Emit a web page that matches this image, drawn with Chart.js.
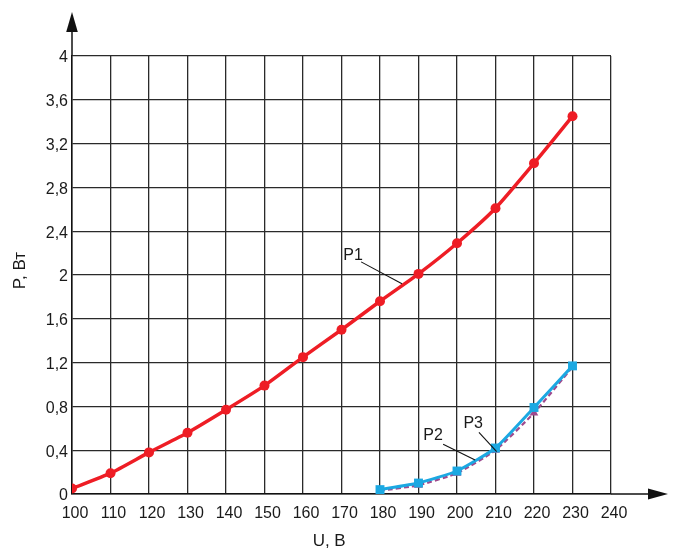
<!DOCTYPE html>
<html>
<head>
<meta charset="utf-8">
<script src="https://cdn.jsdelivr.net/npm/chart.js@4/dist/chart.umd.min.js"></script>
<style>
html,body{margin:0;padding:0;background:#fff;}
canvas{display:block;}
</style>
</head>
<body>
<canvas id="c" width="674" height="552"></canvas>
<script>
const voltageP1 = [100,110,120,130,140,150,160,170,180,190,200,210,220,230];
const powerP1 = [0.05,0.19,0.38,0.56,0.77,0.99,1.25,1.50,1.76,2.01,2.29,2.61,3.02,3.45];
const voltageP23 = [180,190,200,210,220,230];
const powerP2 = [0.03,0.08,0.19,0.40,0.74,1.16];
const powerP3 = [0.04,0.10,0.21,0.42,0.79,1.17];
const xTicks = [100,110,120,130,140,150,160,170,180,190,200,210,220,230,240];
const yTicks = [0,0.4,0.8,1.2,1.6,2,2.4,2.8,3.2,3.6,4];
const labels = [
  {text:'P1', tx:173.0, ty:2.18, x1:175.1, y1:2.12, x2:185.7, y2:1.92},
  {text:'P2', tx:193.8, ty:0.53, x1:196.4, y1:0.454, x2:204.7, y2:0.31},
  {text:'P3', tx:204.2, ty:0.64, x1:205.7, y1:0.563, x2:210.3, y2:0.386}
];
const xTitle = 'U, В';
const yTitle = 'P, Вт';

const FONT = 'Liberation Sans, Arial, sans-serif';
const pts = (xs, ys) => xs.map((x,i)=>({x:x,y:ys[i]}));

const extras = {
  id:'extras',
  afterDraw(chart){
    const ctx = chart.ctx, xs = chart.scales.x, ys = chart.scales.y;
    const ax = xs.getPixelForValue(100), ay = ys.getPixelForValue(0);
    const top = ys.getPixelForValue(4), right = xs.getPixelForValue(240);
    ctx.save();
    ctx.strokeStyle = '#111'; ctx.fillStyle = '#111'; ctx.lineWidth = 1.5;
    ctx.beginPath(); ctx.moveTo(ax, top); ctx.lineTo(ax, top-26); ctx.stroke();
    ctx.beginPath(); ctx.moveTo(ax, top-44); ctx.lineTo(ax-5.8, top-24); ctx.lineTo(ax+5.8, top-24); ctx.closePath(); ctx.fill();
    ctx.beginPath(); ctx.moveTo(right, ay); ctx.lineTo(right+39, ay); ctx.stroke();
    ctx.beginPath(); ctx.moveTo(right+57, ay); ctx.lineTo(right+37, ay-5.5); ctx.lineTo(right+37, ay+5.5); ctx.closePath(); ctx.fill();
    ctx.lineWidth = 1.1; ctx.strokeStyle = '#111';
    ctx.font = '16px ' + FONT; ctx.textAlign = 'center'; ctx.textBaseline = 'middle';
    ctx.fillStyle = '#1a1a1a';
    labels.forEach(l=>{
      ctx.beginPath();
      ctx.moveTo(xs.getPixelForValue(l.x1), ys.getPixelForValue(l.y1));
      ctx.lineTo(xs.getPixelForValue(l.x2), ys.getPixelForValue(l.y2));
      ctx.stroke();
      ctx.fillText(l.text, xs.getPixelForValue(l.tx), ys.getPixelForValue(l.ty));
    });
    // axis titles
    ctx.font = '17px ' + FONT;
    ctx.fillText(xTitle, xs.getPixelForValue(166.8), ay + 47);
    ctx.save();
    ctx.translate(20, ys.getPixelForValue(2.04));
    ctx.rotate(-Math.PI/2);
    ctx.fillText(yTitle, 0, 0);
    ctx.restore();
    ctx.restore();
  }
};

new Chart(document.getElementById('c'), {
  type:'line',
  data:{
    datasets:[
      {label:'P1', data:pts(voltageP1, powerP1), borderColor:'#ee1d25', backgroundColor:'#ee1d25',
       borderWidth:3.5, pointRadius:5, pointBorderWidth:0, pointStyle:'circle', tension:0.2, order:1},
      {label:'P3', data:pts(voltageP23, powerP3), borderColor:'#1ba8e2', backgroundColor:'#1ba8e2',
       borderWidth:3, pointRadius:6.3, pointBorderWidth:0, pointStyle:'rect', tension:0.15, order:2},
      {label:'P2', data:pts(voltageP23, powerP2), borderColor:'#9e4a8e', backgroundColor:'#9e4a8e',
       borderWidth:2.2, borderDash:[5,3], pointRadius:5, pointBorderWidth:0, pointStyle:'triangle', tension:0.15, order:3}
    ]
  },
  options:{
    responsive:false, animation:false,
    layout:{padding:{left:0, right:63, top:56, bottom:0}},
    plugins:{legend:{display:false}, tooltip:{enabled:false}},
    scales:{
      x:{type:'linear', min:100, max:240,
         afterBuildTicks:(s)=>{s.ticks = xTicks.map(v=>({value:v}));},
         afterFit:(s)=>{s.height = 58;},
         grid:{color:'#2a2a2a', lineWidth:1.3, drawTicks:false},
         border:{color:'#111', width:1.5},
         ticks:{color:'#1a1a1a', font:{family:FONT, size:16}, padding:10, labelOffset:3, maxRotation:0, autoSkip:false,
                callback:(v)=>String(v)},
         title:{display:false}
      },
      y:{type:'linear', min:0, max:4,
         afterBuildTicks:(s)=>{s.ticks = yTicks.map(v=>({value:v}));},
         afterFit:(s)=>{s.width = 72;},
         grid:{color:'#2a2a2a', lineWidth:1.3, drawTicks:false},
         border:{color:'#111', width:1.5},
         ticks:{color:'#1a1a1a', font:{family:FONT, size:16}, padding:4, labelOffset:2, autoSkip:false,
                callback:(v)=>String(Math.round(v*10)/10).replace('.', ',')},
         title:{display:false}
      }
    }
  },
  plugins:[extras]
});
</script>
</body>
</html>
